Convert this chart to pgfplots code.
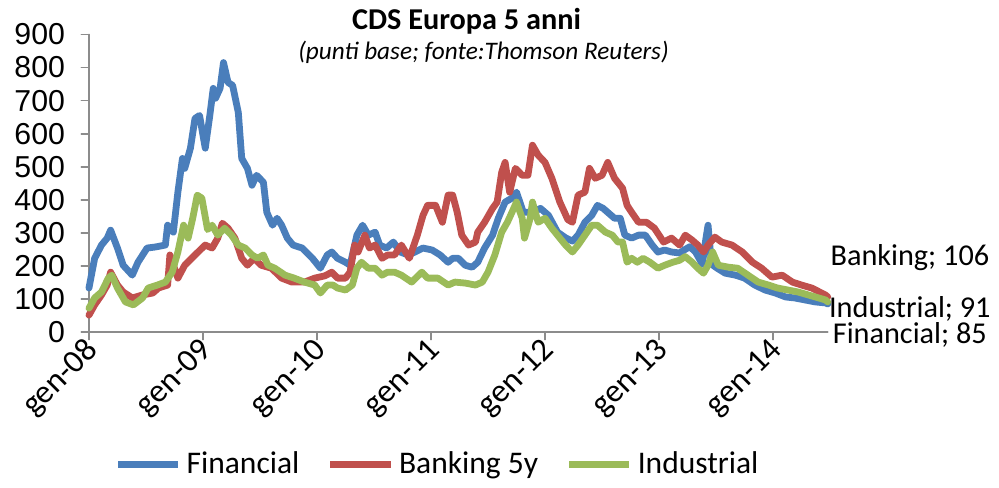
\documentclass[border=0pt]{standalone}
\usepackage{fontspec}
\setmainfont{Carlito}
\newfontfamily\arialf{Liberation Sans}
\usepackage{pgfplots}
\pgfplotsset{compat=1.18}
\definecolor{cfin}{HTML}{4A7EBB}
\definecolor{cbank}{HTML}{C0504D}
\definecolor{cind}{HTML}{9BBB59}
\definecolor{axgray}{HTML}{8C8C8C}
\begin{document}
\begin{tikzpicture}
\begin{axis}[
  scale only axis, width=293pt, height=118pt,
  xmin=0, xmax=6.48, ymin=0, ymax=900,
  ytick={0,100,...,900},
  xtick={0,1,2,3,4,5,6},
  xticklabels={gen-08,gen-09,gen-10,gen-11,gen-12,gen-13,gen-14},
  axis x line*=bottom, axis y line*=left,
  axis line style={axgray, line width=0.7pt},
  tick style={axgray, line width=0.7pt},
  major tick length=3pt, tick align=outside,
  /pgf/number format/assume math mode=true,
  yticklabel style={font=\arialf\fontsize{12}{13}\selectfont, xshift=-3pt},
  xticklabel style={font=\fontsize{13}{14}\selectfont, rotate=45, anchor=east, xshift=3pt, yshift=-3pt},
  clip=false,
  line join=round, line cap=round,
  legend columns=3,
  legend style={draw=none, fill=none, at={(rel axis cs:0.474,-0.446)}, anchor=center,
    font=\fontsize{12.5}{13}\selectfont, /tikz/every even column/.append style={column sep=9pt}},
  legend image code/.code={\draw[#1, line width=2.6pt] (0cm,0cm) -- (0.84cm,0cm);},
]
\addplot[cfin, line width=2.7pt] coordinates {
(0,133) (0.05,223) (0.11,263) (0.16,284) (0.19,308) (0.25,254) (0.30,202) (0.38,172) (0.43,211)
(0.51,254) (0.58,257) (0.67,263) (0.69,323) (0.74,302) (0.78,423) (0.82,525) (0.84,495) (0.89,556)
(0.93,646) (0.97,655) (1.02,556) (1.06,655) (1.09,737) (1.11,707) (1.15,737) (1.18,815) (1.22,755)
(1.26,746) (1.31,664) (1.34,525) (1.39,495) (1.43,444) (1.47,474) (1.53,453) (1.56,362) (1.61,323)
(1.65,344) (1.69,323) (1.74,284) (1.79,263) (1.87,254) (1.96,223) (2.03,193) (2.09,233) (2.13,242)
(2.18,223) (2.25,211) (2.29,202) (2.35,293) (2.40,323) (2.45,293) (2.51,302) (2.55,263) (2.61,254)
(2.67,272) (2.73,242) (2.80,233) (2.86,242) (2.93,254) (3.01,248) (3.08,233) (3.15,211) (3.19,223)
(3.24,223) (3.30,202) (3.36,196) (3.41,211) (3.47,254) (3.54,293) (3.59,344) (3.65,393) (3.71,405)
(3.75,423) (3.81,362) (3.89,362) (3.96,374) (4.03,353) (4.11,302) (4.18,285) (4.24,275) (4.29,293)
(4.35,332) (4.41,353) (4.46,383) (4.51,374) (4.55,362) (4.61,344) (4.66,344) (4.70,293) (4.76,284)
(4.82,293) (4.88,293) (4.94,263) (4.99,242) (5.05,248) (5.11,242) (5.18,239) (5.23,250) (5.27,258)
(5.32,242) (5.38,205) (5.41,280) (5.43,323) (5.46,205) (5.51,193) (5.58,178) (5.67,172) (5.75,163)
(5.84,142) (5.93,127) (6.02,118) (6.11,106) (6.19,103) (6.28,97) (6.37,91) (6.46,88) (6.48,85)
};
\addlegendentry{Financial}
\addplot[cbank, line width=2.7pt] coordinates {
(0,51) (0.05,82) (0.11,112) (0.16,142) (0.19,181) (0.25,142) (0.30,121) (0.38,103) (0.47,112)
(0.56,118) (0.61,133) (0.69,142) (0.71,233) (0.78,163) (0.84,202) (0.93,233) (1.02,263) (1.08,254)
(1.13,284) (1.17,329) (1.22,314) (1.28,284) (1.34,223) (1.39,202) (1.45,223) (1.51,202) (1.60,193)
(1.69,163) (1.78,151) (1.89,151) (1.98,163) (2.07,170) (2.13,181) (2.18,163) (2.25,163) (2.29,181)
(2.33,263) (2.36,242) (2.42,293) (2.46,254) (2.51,263) (2.57,223) (2.62,233) (2.68,233) (2.74,263)
(2.81,223) (2.88,293) (2.93,353) (2.97,383) (3.04,383) (3.10,332) (3.15,414) (3.19,414) (3.23,362)
(3.27,293) (3.33,263) (3.39,272) (3.41,302) (3.47,332) (3.54,374) (3.58,393) (3.62,483) (3.65,513)
(3.69,423) (3.74,495) (3.80,474) (3.85,474) (3.89,565) (3.94,535) (4.00,513) (4.06,465) (4.13,393)
(4.20,340) (4.24,332) (4.29,414) (4.35,423) (4.39,495) (4.44,465) (4.50,474) (4.55,513) (4.61,465)
(4.68,435) (4.72,383) (4.76,362) (4.82,332) (4.89,332) (4.96,314) (5.04,272) (5.11,284) (5.18,263)
(5.23,293) (5.29,278) (5.34,263) (5.39,242) (5.43,263) (5.49,287) (5.55,272) (5.64,263) (5.73,242)
(5.82,211) (5.90,193) (5.99,166) (6.08,172) (6.17,151) (6.25,142) (6.34,133) (6.46,112) (6.48,106)
};
\addlegendentry{Banking 5y}
\addplot[cind, line width=2.7pt] coordinates {
(0,72) (0.05,103) (0.11,121) (0.17,163) (0.20,172) (0.25,133) (0.32,91) (0.39,82) (0.47,103)
(0.52,133) (0.60,142) (0.67,151) (0.73,181) (0.78,242) (0.83,323) (0.87,284) (0.91,344) (0.95,414)
(0.99,405) (1.04,310) (1.08,323) (1.13,293) (1.19,314) (1.25,293) (1.31,263) (1.37,254) (1.43,233)
(1.48,223) (1.53,233) (1.57,202) (1.63,193) (1.72,172) (1.80,163) (1.89,151) (1.98,142) (2.03,118)
(2.09,142) (2.14,142) (2.18,133) (2.25,127) (2.31,142) (2.35,193) (2.39,211) (2.45,193) (2.51,193)
(2.57,172) (2.62,181) (2.68,181) (2.74,172) (2.83,151) (2.92,181) (2.97,163) (3.06,163) (3.15,142)
(3.21,151) (3.30,148) (3.39,142) (3.45,151) (3.50,181) (3.56,233) (3.62,302) (3.67,332) (3.71,362)
(3.75,393) (3.80,344) (3.82,284) (3.87,344) (3.89,393) (3.94,332) (4.00,344) (4.06,314) (4.13,284)
(4.18,263) (4.24,242) (4.29,263) (4.35,293) (4.41,323) (4.46,323) (4.53,302) (4.59,293) (4.64,272)
(4.68,272) (4.72,211) (4.76,223) (4.81,211) (4.86,223) (4.92,211) (4.99,193) (5.05,202) (5.12,211)
(5.18,217) (5.23,228) (5.29,211) (5.34,193) (5.39,178) (5.43,202) (5.47,242) (5.52,202) (5.61,196)
(5.69,193) (5.78,172) (5.87,151) (5.96,142) (6.04,133) (6.13,127) (6.22,121) (6.31,112) (6.40,103)
(6.46,97) (6.48,91)
};
\addlegendentry{Industrial}
\node[font=\bfseries\fontsize{12}{13}\selectfont] at (rel axis cs:0.511,1.044) {CDS Europa 5 anni};
\node[font=\itshape\fontsize{10}{11}\selectfont] at (rel axis cs:0.534,0.94) {(punti base; fonte:Thomson Reuters)};
\node[font=\fontsize{12}{13}\selectfont] at (axis cs:7.20,226) {Banking; 106};
\node[font=\fontsize{12}{13}\selectfont] at (axis cs:7.20,69) {Industrial; 91};
\node[font=\fontsize{12}{13}\selectfont] at (axis cs:7.20,-9) {Financial; 85};
\path (rel axis cs:-0.1204,1.0973) (rel axis cs:1.2314,-0.4966);
\end{axis}
\end{tikzpicture}
\end{document}
